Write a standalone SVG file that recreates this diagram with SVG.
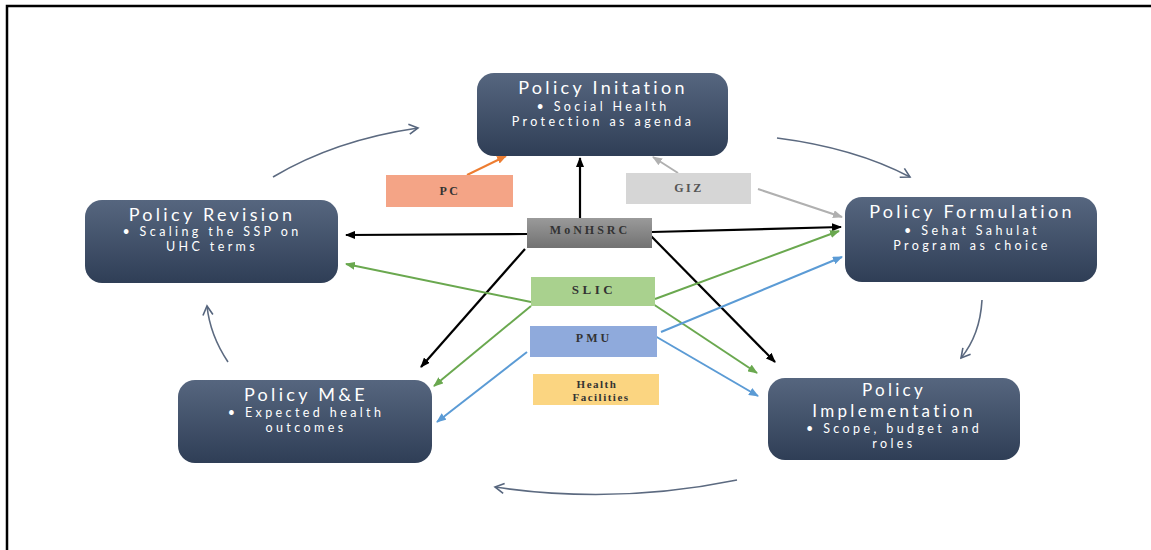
<svg xmlns="http://www.w3.org/2000/svg" width="1151" height="550" viewBox="0 0 1151 550">
<defs>
<linearGradient id="ng" x1="0" y1="0" x2="0" y2="1">
<stop offset="0" stop-color="#56667f"/>
<stop offset="1" stop-color="#2f3e56"/>
</linearGradient>
<linearGradient id="gg" x1="0" y1="0" x2="0" y2="1">
<stop offset="0" stop-color="#9a9a9a"/>
<stop offset="1" stop-color="#727272"/>
</linearGradient>
<marker id="aK" markerWidth="10" markerHeight="8" refX="9" refY="4" orient="auto" markerUnits="userSpaceOnUse"><path d="M0,0 L10,4 L0,8 z" fill="#000"/></marker>
<marker id="aG" markerWidth="10" markerHeight="8" refX="9" refY="4" orient="auto" markerUnits="userSpaceOnUse"><path d="M0,0 L10,4 L0,8 z" fill="#6aa84f"/></marker>
<marker id="aB" markerWidth="10" markerHeight="8" refX="9" refY="4" orient="auto" markerUnits="userSpaceOnUse"><path d="M0,0 L10,4 L0,8 z" fill="#5b9bd5"/></marker>
<marker id="aO" markerWidth="10" markerHeight="8" refX="9" refY="4" orient="auto" markerUnits="userSpaceOnUse"><path d="M0,0 L10,4 L0,8 z" fill="#ed7d31"/></marker>
<marker id="aY" markerWidth="10" markerHeight="8" refX="9" refY="4" orient="auto" markerUnits="userSpaceOnUse"><path d="M0,0 L10,4 L0,8 z" fill="#b0b0b0"/></marker>
<marker id="aC" markerWidth="12" markerHeight="12" refX="10" refY="6" orient="auto" markerUnits="userSpaceOnUse"><path d="M1,1 L10,6 L1,11" fill="none" stroke="#56657d" stroke-width="1.6"/></marker>
</defs>
<style>
.node rect{fill:url(#ng);}
.t{font-family:Lato,"Open Sans","Liberation Sans",sans-serif;fill:#ffffff;text-anchor:middle;}
.h{font-size:18px;letter-spacing:3.3px;}
.b{font-size:12.5px;letter-spacing:3.4px;}
.s{font-family:"Liberation Serif","DejaVu Serif",serif;font-weight:bold;fill:#333333;text-anchor:middle;font-size:12px;letter-spacing:2.5px;}
.cyc{fill:none;stroke:#5c6a80;stroke-width:1.6;marker-end:url(#aC);}
.k{stroke:#000;stroke-width:2.2;fill:none;marker-end:url(#aK);}
.g{stroke:#6aa84f;stroke-width:2;fill:none;marker-end:url(#aG);}
.u{stroke:#5b9bd5;stroke-width:2;fill:none;marker-end:url(#aB);}
.o{stroke:#ed7d31;stroke-width:2;fill:none;marker-end:url(#aO);}
.y{stroke:#b0b0b0;stroke-width:2;fill:none;marker-end:url(#aY);}
</style>
<rect x="0" y="0" width="1151" height="550" fill="#ffffff"/>
<rect x="7" y="6" width="1160" height="560" fill="none" stroke="#000" stroke-width="2.5"/>

<g id="connectors">
<path class="cyc" d="M273,177 Q335,140 418,128"/>
<path class="cyc" d="M777,138 Q855,148 910,177"/>
<path class="cyc" d="M982,300 Q980,335 961,358"/>
<path class="cyc" d="M737,480 Q615,505 495,487"/>
<path class="cyc" d="M228,362 Q210,335 207,306"/>
<path class="k" d="M580,218 L580,158"/>
<path class="k" d="M527,234 L346,235"/>
<path class="k" d="M652,232 L841,227"/>
<path class="k" d="M525,249 L421,367"/>
<path class="k" d="M651,236 L775,362"/>
<path class="o" d="M467,175 L506,156"/>
<path class="y" d="M678,173 L653,157"/>
<path class="y" d="M758,189 L842,217"/>
<path class="g" d="M655,299 L839,231"/>
<path class="g" d="M653,304 L757,373"/>
<path class="g" d="M531,302 L346,264"/>
<path class="g" d="M531,306 L434,386"/>
<path class="u" d="M661,332 L842,257"/>
<path class="u" d="M655,336 L758,396"/>
<path class="u" d="M527,352 L437,422"/>
</g>

<g id="policy-initation" class="node">
<rect x="477" y="73" width="251" height="83" rx="17"/>
<text class="t h" x="603" y="94">Policy Initation</text>
<text class="t b" x="603" y="111">• Social Health</text>
<text class="t b" x="603" y="126">Protection as agenda</text>
</g>
<g id="policy-revision" class="node">
<rect x="85" y="200" width="253" height="83" rx="17"/>
<text class="t h" x="212" y="221">Policy Revision</text>
<text class="t b" x="212" y="236">• Scaling the SSP on</text>
<text class="t b" x="212" y="251">UHC terms</text>
</g>
<g id="policy-formulation" class="node">
<rect x="845" y="197" width="252" height="85" rx="17"/>
<text class="t h" x="972" y="218">Policy Formulation</text>
<text class="t b" x="972" y="235">• Sehat Sahulat</text>
<text class="t b" x="972" y="250">Program as choice</text>
</g>
<g id="policy-me" class="node">
<rect x="178" y="380" width="254" height="83" rx="17"/>
<text class="t h" x="306" y="401">Policy M&amp;E</text>
<text class="t b" x="306" y="417">• Expected health</text>
<text class="t b" x="306" y="432">outcomes</text>
</g>
<g id="policy-implementation" class="node">
<rect x="768" y="378" width="252" height="82" rx="17"/>
<text class="t h" x="894" y="396" style="font-size:17px">Policy</text>
<text class="t h" x="894" y="416.5" style="font-size:17px">Implementation</text>
<text class="t b" x="894" y="433">• Scope, budget and</text>
<text class="t b" x="894" y="448">roles</text>
</g>

<g id="pc"><rect x="386" y="175" width="127" height="32" fill="#f4a486"/><text class="s" x="450" y="195">PC</text></g>
<g id="giz"><rect x="626" y="173" width="125" height="31" fill="#d6d6d6"/><text class="s" x="689" y="192" style="fill:#555">GIZ</text></g>
<g id="monhsrc"><rect x="527" y="218" width="125" height="30" fill="url(#gg)"/><text class="s" x="590" y="234" style="letter-spacing:3px">MoNHSRC</text></g>
<g id="slic"><rect x="531" y="277" width="124" height="29" fill="#a9d18e"/><text class="s" x="594" y="294" style="font-size:13px;letter-spacing:3.5px">SLIC</text></g>
<g id="pmu"><rect x="530" y="326" width="127" height="31" fill="#8faadc"/><text class="s" x="594" y="342" style="letter-spacing:3px">PMU</text></g>
<g id="health-facilities"><rect x="533" y="374" width="126" height="31" fill="#fbd581"/><text class="s" x="597" y="388" style="font-size:11px;letter-spacing:1.5px">Health</text><text class="s" x="601" y="401" style="font-size:11px;letter-spacing:1.5px">Facilities</text></g>
</svg>
